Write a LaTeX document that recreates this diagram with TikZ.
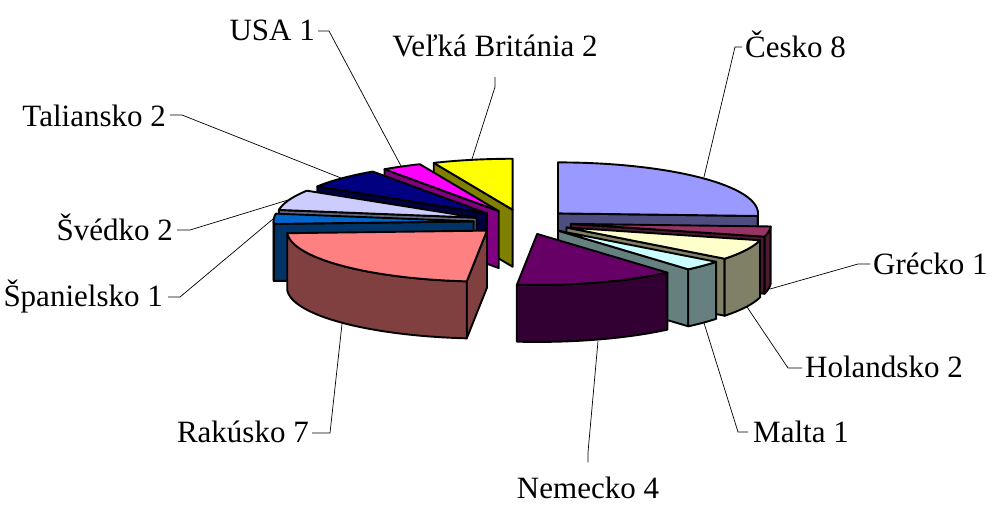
\documentclass[tikz,border=0pt]{standalone}
\usepackage{fontspec}
\setmainfont{Liberation Serif}
\definecolor{czT}{HTML}{9999FF}\definecolor{czS}{HTML}{4D4D80}
\definecolor{grT}{HTML}{993366}\definecolor{grS}{HTML}{4D1A33}
\definecolor{hoT}{HTML}{FFFFCC}\definecolor{hoS}{HTML}{808066}
\definecolor{maT}{HTML}{CCFFFF}\definecolor{maS}{HTML}{668080}
\definecolor{neT}{HTML}{660066}\definecolor{neS}{HTML}{330033}
\definecolor{raT}{HTML}{FF8080}\definecolor{raS}{HTML}{804040}
\definecolor{spT}{HTML}{0066CC}\definecolor{spS}{HTML}{003366}
\definecolor{svT}{HTML}{CCCCFF}\definecolor{svS}{HTML}{666680}
\definecolor{taT}{HTML}{000080}\definecolor{taS}{HTML}{000040}
\definecolor{usT}{HTML}{FF00FF}\definecolor{usS}{HTML}{800080}
\definecolor{vbT}{HTML}{FFFF00}\definecolor{vbS}{HTML}{808000}
\newcommand\pcx{0}\newcommand\pcy{0}
\newcommand\SetSlice[2]{%
  \pgfmathsetmacro\pcx{522.5+49*sin((#1+#2)/2)}%
  \pgfmathsetmacro\pcy{222-12.5*cos((#1+#2)/2)}}
\newcommand\RadFace[2]{%
  \filldraw[face,fill=#2] (\pcx,\pcy) -- ({\pcx+200*sin(#1)},{\pcy-51*cos(#1)})
    -- ({\pcx+200*sin(#1)},{\pcy-51*cos(#1)+57}) -- (\pcx,{\pcy+57}) -- cycle;}
\newcommand\OutFace[3]{%
  \filldraw[face,fill=#3] plot[domain=#1:#2,samples=40,variable=\t]
    ({\pcx+200*sin(\t)},{\pcy-51*cos(\t)})
    -- plot[domain=#2:#1,samples=40,variable=\t]
    ({\pcx+200*sin(\t)},{\pcy-51*cos(\t)+57}) -- cycle;}
\newcommand\TopFace[3]{%
  \filldraw[face,fill=#3] (\pcx,\pcy) -- plot[domain=#1:#2,samples=40,variable=\t]
    ({\pcx+200*sin(\t)},{\pcy-51*cos(\t)}) -- cycle;}
\begin{document}
\begin{tikzpicture}[x=1pt,y=-1pt,
  face/.style={draw=black,line width=1.9pt,line join=round},
  lbl/.style={inner sep=0pt,font=\fontsize{31}{36}\selectfont},
  lead/.style={draw=black,line width=0.7pt}]
\useasboundingbox (0,0) rectangle (992,504);
\fill[white] (0,0) rectangle (992,504);
% ---- left group, back to front
\SetSlice{336.774}{360}
\RadFace{336.774}{vbS}\TopFace{336.774}{360}{vbT}
\SetSlice{325.161}{336.774}
\RadFace{325.161}{usS}\TopFace{325.161}{336.774}{usT}
\SetSlice{301.935}{325.161}
\RadFace{301.935}{taS}\TopFace{301.935}{325.161}{taT}
\SetSlice{278.710}{301.935}
\RadFace{278.710}{svS}\TopFace{278.710}{301.935}{svT}
\SetSlice{267.097}{278.710}
\RadFace{267.097}{spS}\OutFace{267.097}{270}{spS}\TopFace{267.097}{278.710}{spT}
\SetSlice{185.806}{267.097}
\RadFace{185.806}{raS}\OutFace{185.806}{267.097}{raS}\TopFace{185.806}{267.097}{raT}
% ---- right group, back to front
\SetSlice{0}{92.903}
\RadFace{92.903}{czS}\OutFace{90}{92.903}{czS}\TopFace{0}{92.903}{czT}
\SetSlice{92.903}{104.516}
\RadFace{104.516}{grS}\OutFace{92.903}{104.516}{grS}\TopFace{92.903}{104.516}{grT}
\SetSlice{104.516}{127.742}
\RadFace{127.742}{hoS}\OutFace{104.516}{127.742}{hoS}\TopFace{104.516}{127.742}{hoT}
\SetSlice{127.742}{139.355}
\RadFace{139.355}{maS}\OutFace{127.742}{139.355}{maS}\TopFace{127.742}{139.355}{maT}
\SetSlice{139.355}{185.806}
\OutFace{139.355}{185.806}{neS}\TopFace{139.355}{185.806}{neT}
% ---- leader end points
\coordinate (ecz) at (704,177);
\coordinate (egr) at (770,289);
\coordinate (eho) at (747,307);
\coordinate (ema) at (704,323);
\coordinate (ene) at (598,341);
\coordinate (era) at (342,324);
\coordinate (esp) at (273,219);
\coordinate (esv) at (288,200);
\coordinate (eta) at (341,178);
\coordinate (eus) at (401,166);
\coordinate (evb) at (472,159);
% ---- labels
\node[lbl,anchor=base west] (lcz) at (745,57) {Česko 8};
\node[lbl,anchor=base west] (lgr) at (873,274) {Grécko 1};
\node[lbl,anchor=base west] (lho) at (805,377) {Holandsko 2};
\node[lbl,anchor=base west] (lma) at (753,442) {Malta 1};
\node[lbl,anchor=base] (lne) at (588,498) {Nemecko 4};
\node[lbl,anchor=base east] (lra) at (309,442) {Rakúsko 7};
\node[lbl,anchor=base east] (lsp) at (163,306) {Španielsko 1};
\node[lbl,anchor=base east] (lsv) at (173,240) {Švédko 2};
\node[lbl,anchor=base east] (lta) at (166,126) {Taliansko 2};
\node[lbl,anchor=base east] (lus) at (315,40) {USA 1};
\node[lbl,anchor=base] (lvb) at (495,56) {Veľká Británia 2};
% ---- leaders
\draw[lead] ([xshift=-3pt,yshift=10pt]lcz.base west) -- ++(-7,0) -- (ecz);
\draw[lead] ([xshift=-3pt,yshift=10pt]lgr.base west) -- ++(-12,0) -- (egr);
\draw[lead] ([xshift=-3pt,yshift=9pt]lho.base west) -- ++(-14,0) -- (eho);
\draw[lead] ([xshift=-5pt,yshift=10pt]lma.base west) -- ++(-10,0) -- (ema);
\draw[lead] ([yshift=14pt]lne.north) -- ++(0,-10) -- (ene);
\draw[lead] ([xshift=3pt,yshift=9pt]lra.base east) -- ++(18,0) -- (era);
\draw[lead] ([xshift=5pt,yshift=9pt]lsp.base east) -- ++(12,0) -- (esp);
\draw[lead] ([xshift=4pt,yshift=10pt]lsv.base east) -- ++(13,0) -- (esv);
\draw[lead] ([xshift=4pt,yshift=11pt]lta.base east) -- ++(12,0) -- (eta);
\draw[lead] ([xshift=3pt,yshift=9pt]lus.base east) -- ++(11,0) -- (eus);
\draw[lead] ([yshift=-21pt]lvb.base) -- ++(0,10) -- (evb);
\end{tikzpicture}
\end{document}
